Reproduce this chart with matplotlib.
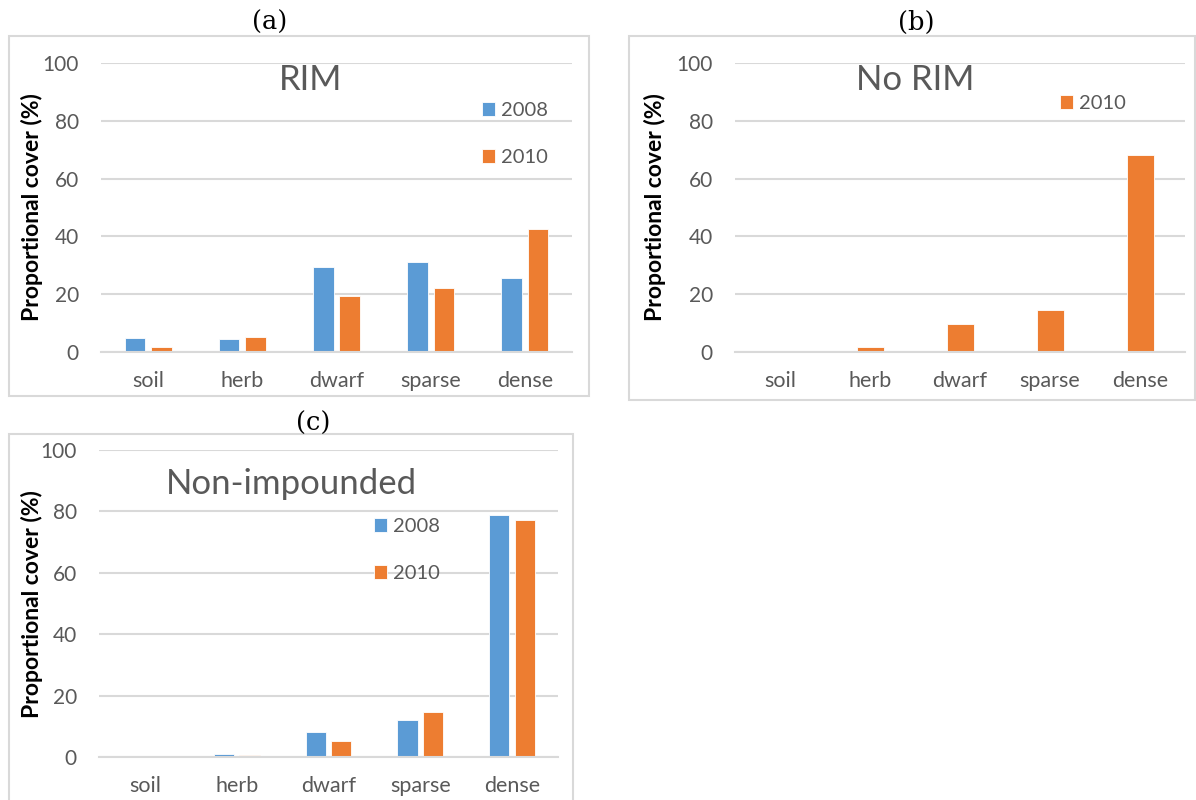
import numpy as np
import matplotlib.pyplot as plt
from matplotlib.patches import Rectangle

# данные
categories = ['soil', 'herb', 'dwarf', 'sparse', 'dense']
rim_2008 = [4.7, 4.6, 29.4, 31.1, 25.6]
rim_2010 = [1.6, 5.2, 19.4, 22.1, 42.6]
norim_2010 = [0.3, 1.7, 9.7, 14.6, 68.3]
nonimp_2008 = [0.1, 0.9, 8.1, 11.9, 78.7]
nonimp_2010 = [0.2, 0.7, 5.2, 14.8, 77.3]
yticks = [0, 20, 40, 60, 80, 100]

BLUE = '#5b9bd5'
ORANGE = '#ed7d31'
GRID = '#d9d9d9'
TXT = '#595959'
FONT = 'Lato'

W, H = 1196, 800
fig = plt.figure(figsize=(W / 100, H / 100), dpi=100)


def px_rect(x0, y0, x1, y1):
    # пиксели (сверху вниз) -> доли фигуры
    return [x0 / W, 1 - y1 / H, (x1 - x0) / W, (y1 - y0) / H]


def frame(x0, y0, x1, y1):
    fig.patches.append(Rectangle((x0 / W, 1 - y1 / H), (x1 - x0) / W, (y1 - y0) / H,
                                 transform=fig.transFigure, fill=False,
                                 edgecolor=GRID, linewidth=1.5))


def setup(ax, label_x, label_y):
    ax.set_ylim(0, 100)
    ax.set_xlim(-0.5, len(categories) - 0.5)
    ax.set_yticks(yticks)
    ax.set_xticks(range(len(categories)))
    ax.set_xticklabels(categories)
    ax.grid(axis='y', color=GRID, linewidth=1.5)
    ax.set_axisbelow(True)
    for s in ['top', 'right', 'left']:
        ax.spines[s].set_visible(False)
    ax.spines['bottom'].set_color(GRID)
    ax.spines['bottom'].set_linewidth(1.5)
    ax.tick_params(length=0, labelsize=15, labelcolor=TXT)
    ax.tick_params(axis='y', pad=16)
    ax.tick_params(axis='x', pad=14, labelsize=15.5)
    for lab in ax.get_xticklabels() + ax.get_yticklabels():
        lab.set_fontfamily(FONT)
    fig.text(label_x / W, 1 - label_y / H, 'Proportional cover (%)', rotation=90,
             ha='center', va='center', fontsize=16.5, fontweight='bold',
             fontfamily=FONT, color='black')


def legend(ax, handles, labels, x, y):
    ax.legend(handles, labels, loc='upper left', bbox_to_anchor=(x / W, 1 - y / H),
              bbox_transform=fig.transFigure, frameon=False, borderpad=0,
              handlelength=0.65, handleheight=0.65, handletextpad=0.3,
              labelspacing=1.5, prop={'family': FONT, 'size': 14.5},
              labelcolor=TXT, borderaxespad=0)


x = np.arange(len(categories))
bw = 0.22
off = 0.14

# (a) RIM
frame(9, 36, 589, 396)
ax_a = fig.add_axes(px_rect(101, 63, 572, 352))
b1 = ax_a.bar(x - off, rim_2008, bw, color=BLUE, edgecolor='white', linewidth=0.6)
b2 = ax_a.bar(x + off, rim_2010, bw, color=ORANGE, edgecolor='white', linewidth=0.6)
setup(ax_a, 32, 207)
ax_a.text(0.445, 0.94, 'RIM', transform=ax_a.transAxes, ha='center', va='center',
          fontsize=25, color=TXT, fontfamily=FONT)
legend(ax_a, [b1, b2], ['2008', '2010'], 482, 102)
fig.text(270 / W, 1 - 22 / H, '(a)', ha='center', va='center', fontsize=18.5,
         fontfamily='DejaVu Serif')

# (b) No RIM
frame(629, 36, 1195, 400)
ax_b = fig.add_axes(px_rect(735, 63, 1185, 352))
b3 = ax_b.bar(x, norim_2010, 0.3, color=ORANGE, edgecolor='white', linewidth=0.6)
setup(ax_b, 655, 207)
ax_b.text(0.4, 0.94, 'No RIM', transform=ax_b.transAxes, ha='center', va='center',
          fontsize=25, color=TXT, fontfamily=FONT)
legend(ax_b, [b3], ['2010'], 1060, 95)
fig.text(916 / W, 1 - 22 / H, '(b)', ha='center', va='center', fontsize=18.5,
         fontfamily='DejaVu Serif')

# (c) Non-impounded
frame(9, 434, 573, 805)
ax_c = fig.add_axes(px_rect(99, 450, 558, 757))
b4 = ax_c.bar(x - off, nonimp_2008, bw, color=BLUE, edgecolor='white', linewidth=0.6)
b5 = ax_c.bar(x + off, nonimp_2010, bw, color=ORANGE, edgecolor='white', linewidth=0.6)
setup(ax_c, 32, 604)
ax_c.text(0.42, 0.89, 'Non-impounded', transform=ax_c.transAxes, ha='center', va='center',
          fontsize=25, color=TXT, fontfamily=FONT)
legend(ax_c, [b4, b5], ['2008', '2010'], 374, 518)
fig.text(313 / W, 1 - 423 / H, '(c)', ha='center', va='center', fontsize=18.5,
         fontfamily='DejaVu Serif')

fig.savefig('out.png', dpi=100)
